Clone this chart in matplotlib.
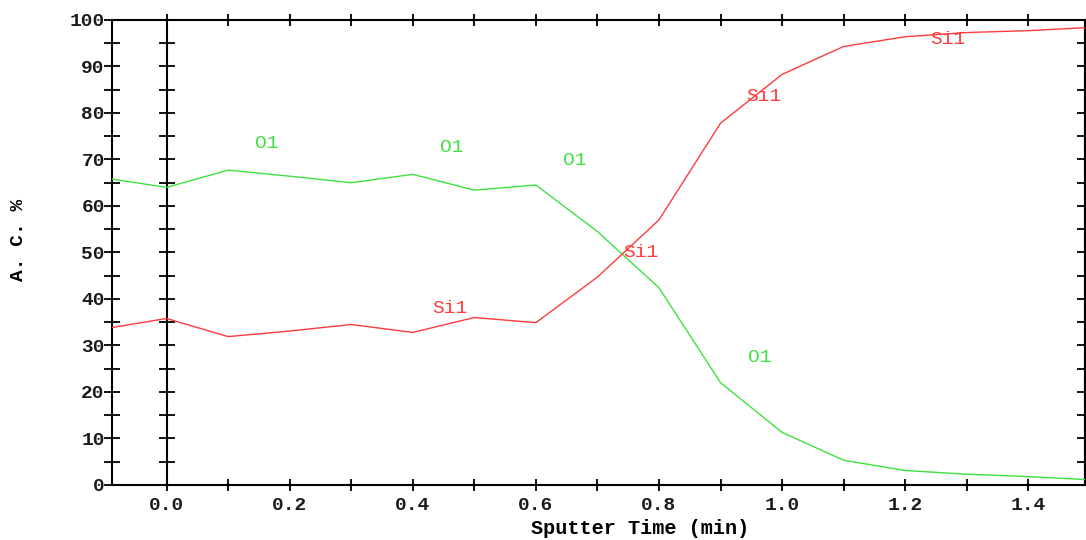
import matplotlib
matplotlib.use("Agg")
import matplotlib.pyplot as plt
from matplotlib.ticker import MultipleLocator

time = [-0.1, 0.0, 0.1, 0.2, 0.3, 0.4, 0.5, 0.6, 0.7, 0.8, 0.9, 1.0, 1.1, 1.2, 1.3, 1.4, 1.5]
o1 = [66.0, 64.0, 67.7, 66.4, 65.0, 66.8, 63.4, 64.5, 54.5, 42.4, 22.0, 11.3, 5.3, 3.1, 2.3, 1.8, 1.1]
si1 = [33.6, 35.8, 31.9, 33.1, 34.5, 32.8, 36.0, 34.9, 44.7, 57.0, 77.8, 88.3, 94.3, 96.4, 97.3, 97.7, 98.4]

o1_label_x = [0.163, 0.463, 0.663, 0.963]
o1_label_y = [73.5, 72.5, 69.8, 27.4]
si1_label_x = [0.46, 0.77, 0.97, 1.27]
si1_label_y = [38.0, 50.0, 83.5, 95.8]

xticks = [0.0, 0.2, 0.4, 0.6, 0.8, 1.0, 1.2, 1.4]
yticks = [0, 10, 20, 30, 40, 50, 60, 70, 80, 90, 100]

green = "#3fe23f"
red = "#ff3b3b"
mono = "Liberation Mono"

fig = plt.figure(figsize=(10.86, 5.40), dpi=100)
ax = fig.add_axes([0.1035, 0.102, 0.8955, 0.861])

ax.plot(time, o1, color=green, lw=1.0, zorder=3)
ax.plot(time, si1, color=red, lw=1.0, zorder=3)

for x, y in zip(o1_label_x, o1_label_y):
    ax.text(x, y, "O1", color=green, family=mono, fontsize=14, ha="center", va="center", zorder=4)
for x, y in zip(si1_label_x, si1_label_y):
    ax.text(x, y, "Si1", color=red, family=mono, fontsize=14, ha="center", va="center", zorder=4)

ax.set_xlim(-0.088, 1.492)
ax.set_ylim(0, 100)

# vertical line at time zero with crossing ticks
ax.axvline(0.0, color="black", lw=1.5, zorder=2)
ax.plot([0.0] * 21, list(range(0, 101, 5)), linestyle="none", marker="_",
        markersize=11, markeredgewidth=1.3, color="black", zorder=2, clip_on=False)

ax.set_xticks(xticks)
ax.set_xticklabels([f"{v:.1f}" for v in xticks])
ax.xaxis.set_minor_locator(MultipleLocator(0.1))
ax.set_yticks(yticks)
ax.set_yticklabels([str(v) for v in yticks])
ax.yaxis.set_minor_locator(MultipleLocator(5))

ax.tick_params(axis="x", which="both", direction="inout", length=9, width=1.3,
               top=True, bottom=True, pad=4)
ax.tick_params(axis="y", which="both", direction="inout", length=11, width=1.3,
               left=True, right=False, pad=0)

sec = ax.secondary_yaxis("right")
sec.set_yticks(yticks)
sec.set_yticklabels([])
sec.yaxis.set_minor_locator(MultipleLocator(5))
sec.tick_params(axis="y", which="both", direction="in", length=6, width=1.3)
sec.spines["right"].set_linewidth(1.5)

for lab in ax.get_xticklabels() + ax.get_yticklabels():
    lab.set_family(mono)
    lab.set_fontweight("bold")
    lab.set_fontsize(14)
    lab.set_color("#1a1a1a")

for sp in ax.spines.values():
    sp.set_linewidth(1.5)
    sp.set_color("black")

ax.set_xlabel("Sputter Time (min)", family=mono, fontweight="bold", fontsize=14.5)
ax.xaxis.label.set_va("center")
ax.xaxis.set_label_coords(0.543, -0.093)
ax.set_ylabel("A. C. %", family=mono, fontweight="bold", fontsize=14)
ax.yaxis.label.set_va("center")
ax.yaxis.set_label_coords(-0.097, 0.527)

fig.savefig("out.png", dpi=100)
